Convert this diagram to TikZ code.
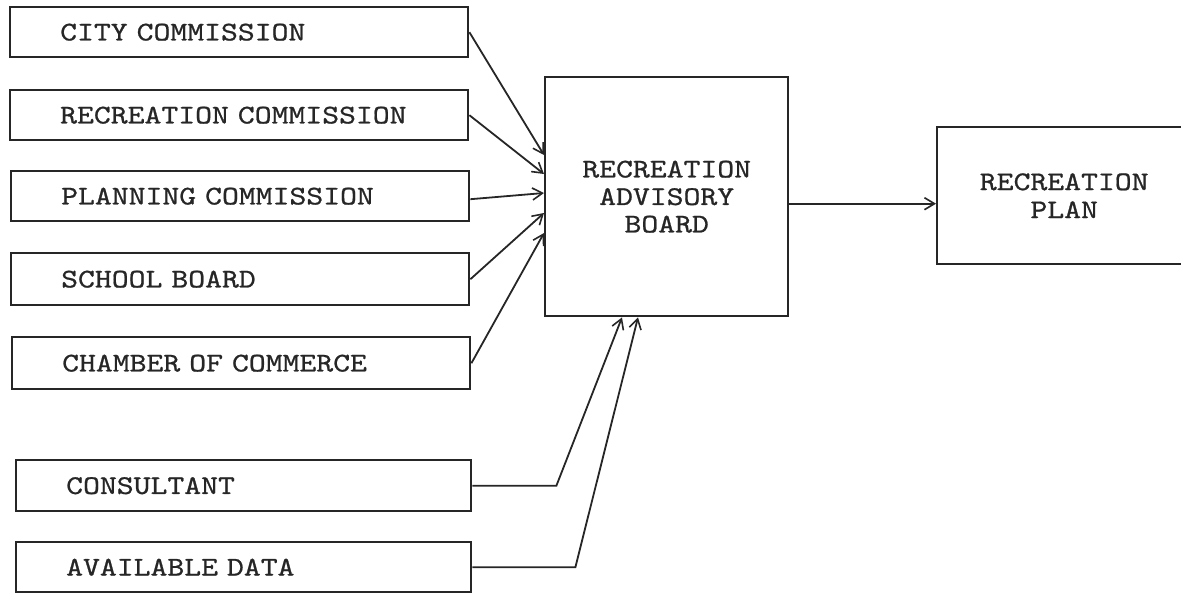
\documentclass[tikz,border=0pt]{standalone}
\usepackage{fontspec}
\newfontfamily\tw{lmmono10-regular.otf}[FakeStretch=1.19,FakeBold=0.8,WordSpace=1.6]
\usetikzlibrary{arrows.meta}
\begin{document}
\begin{tikzpicture}[x=1pt,y=-1pt,
  every node/.style={font=\tw\fontsize{27}{27.5}\selectfont, text=black!85},
  srcbox/.style={draw=black!85, line width=2.4pt, anchor=north west, minimum height=50pt,
     text width=358pt, inner xsep=50pt, align=left, inner ysep=0pt},
  bigbox/.style={draw=black!85, line width=2.4pt, align=center, inner sep=0pt},
  arr/.style={draw=black!85, line width=1.8pt, -{Straight Barb[length=10pt,width=12pt,line width=1.6pt]}}]
\useasboundingbox (0,0) rectangle (1181,592);
% source boxes
\node[srcbox] (city)       at (9,6)    {CITY COMMISSION};
\node[srcbox] (reccomm)    at (9,89)   {RECREATION COMMISSION};
\node[srcbox] (planning)   at (10,170) {PLANNING COMMISSION};
\node[srcbox, minimum height=52pt] (school) at (10,252) {SCHOOL BOARD};
\node[srcbox, minimum height=52pt] (chamber) at (11,336) {CHAMBER OF COMMERCE};
\node[srcbox, minimum height=51pt, text width=355pt] (consultant) at (15,459) {CONSULTANT};
\node[srcbox, minimum height=50pt, text width=355pt] (data) at (15,541) {AVAILABLE DATA};
% advisory board
\node[bigbox, minimum width=243pt, minimum height=239pt, anchor=north west] (advisory) at (544,76)
  {RECREATION\\ADVISORY\\BOARD};
% recreation plan
\node[bigbox, minimum width=254pt, minimum height=137pt, anchor=north west,
  font=\tw\fontsize{27}{28}\selectfont] (recplan) at (936,126)
  {RECREATION\\PLAN};
% connectors
\draw[arr] (city.east)     -- ([yshift=-79pt]advisory.north west);
\draw[arr] (reccomm.east)  -- ([yshift=-98pt]advisory.north west);
\draw[arr] ([yshift=-3pt]planning.east) -- ([yshift=-117pt]advisory.north west);
\draw[arr] (school.east)   -- ([yshift=-137pt]advisory.north west);
\draw[arr] (chamber.east)  -- ([yshift=-157pt]advisory.north west);
\draw[arr] (consultant.east) -- ++(84,0) -- ([xshift=78pt]advisory.south west);
\draw[arr] (data.east)     -- ++(103,0) -- ([xshift=94pt]advisory.south west);
\draw[arr] ([yshift=-7pt]advisory.east) -- ([yshift=-7pt]advisory.east -| recplan.west);
\end{tikzpicture}
\end{document}
